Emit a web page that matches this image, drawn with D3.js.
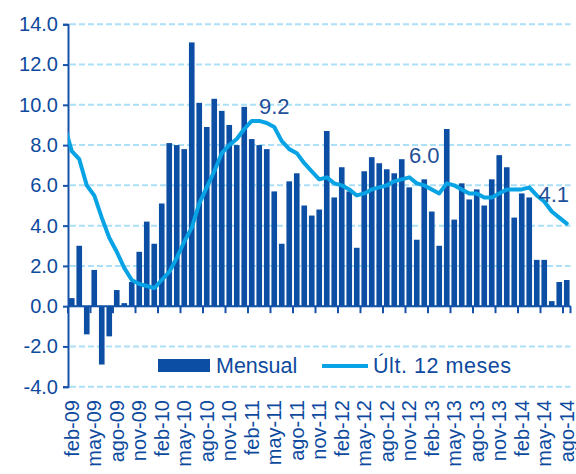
<!DOCTYPE html>
<html>
<head>
<meta charset="utf-8">
<script src="https://cdn.jsdelivr.net/npm/d3@7"></script>
<style>
html,body{margin:0;padding:0;background:#fff;}
svg{display:block;}
text{font-family:"Liberation Sans",Arial,sans-serif;}
</style>
</head>
<body>
<svg id="chart" width="576" height="474"></svg>
<script>
// ---------- data ----------
const months = [
 "feb-09","mar-09","abr-09","may-09","jun-09","jul-09","ago-09","sep-09","oct-09","nov-09","dic-09",
 "ene-10","feb-10","mar-10","abr-10","may-10","jun-10","jul-10","ago-10","sep-10","oct-10","nov-10","dic-10",
 "ene-11","feb-11","mar-11","abr-11","may-11","jun-11","jul-11","ago-11","sep-11","oct-11","nov-11","dic-11",
 "ene-12","feb-12","mar-12","abr-12","may-12","jun-12","jul-12","ago-12","sep-12","oct-12","nov-12","dic-12",
 "ene-13","feb-13","mar-13","abr-13","may-13","jun-13","jul-13","ago-13","sep-13","oct-13","nov-13","dic-13",
 "ene-14","feb-14","mar-14","abr-14","may-14","jun-14","jul-14","ago-14"
];
const mensual = [
 0.4,3.0,-1.4,1.8,-2.9,-1.5,0.8,0.15,1.2,2.7,4.2,
 3.1,5.1,8.1,8.0,7.8,13.1,10.1,8.9,10.3,9.7,9.0,8.0,
 9.9,8.3,8.0,7.8,5.7,3.1,6.2,6.6,5.0,4.5,4.8,8.7,
 5.4,6.9,5.7,2.9,6.7,7.4,7.1,6.8,6.6,7.3,5.9,3.3,
 6.3,4.7,3.0,8.8,4.3,6.1,5.3,5.8,5.0,6.3,7.5,6.9,
 4.4,5.6,5.4,2.3,2.3,0.25,1.2,1.3
];
// 12-month series; the first value (ene-09) lies just left of the plot and is clipped
const ultMonths = ["ene-09"].concat(months);
const ult12 = [
 9.0,
 7.7,7.3,6.0,5.5,4.4,3.4,2.7,1.9,1.3,1.1,1.0,
 0.9,1.3,1.7,2.4,3.2,3.9,5.1,5.9,6.7,7.6,8.0,8.3,
 8.8,9.2,9.2,9.1,8.9,8.2,7.8,7.6,7.1,6.7,6.3,6.4,
 6.1,6.0,5.8,5.5,5.6,5.8,5.9,6.0,6.2,6.3,6.4,6.1,
 6.0,5.8,5.6,6.1,6.0,5.8,5.6,5.6,5.4,5.4,5.6,5.8,
 5.8,5.8,5.9,5.5,5.2,4.7,4.4,4.1
];
const yTicks = [-4,-2,0,2,4,6,8,10,12,14];
const xLabelMonths = months.filter((m,i)=>i%3===0);
const annotMonths = ["may-11","ene-13","jun-14"];
const annotTexts  = ["9.2","6.0","4.1"];
const seriesNames = ["Mensual","Últ. 12 meses"];

// ---------- layout / style ----------
const X0 = 68, X1 = 570.5, YTOP = 24.3, YBOT = 386.7;
const cBar = "#0b4ea4", cLine = "#07a3e4", cText = "#0d4a9e", cGrid = "#ace0f7", cAxis = "#1552a8";

const svg = d3.select("#chart");
const x = d3.scaleBand().domain(months).range([X0, X1]).paddingInner(0.25).paddingOuter(0.125);
const step = x.step();
const xc = m => m === "ene-09" ? x("feb-09") + x.bandwidth()/2 - step : x(m) + x.bandwidth()/2;
const y = d3.scaleLinear().domain([-4,14]).range([YBOT, YTOP]);
const fmt = d3.formatLocale({decimal:".",thousands:",",grouping:[3],currency:["",""],minus:"-"}).format(".1f");

// gridlines
svg.append("g").selectAll("line").data(yTicks).join("line")
  .attr("x1", X0+2).attr("x2", X1)
  .attr("y1", d=>y(d)).attr("y2", d=>y(d))
  .attr("stroke", cGrid).attr("stroke-width", 2).attr("stroke-dasharray","6,3");

// bars
svg.append("g").selectAll("rect").data(mensual).join("rect")
  .attr("x", (d,i)=>x(months[i]))
  .attr("width", x.bandwidth())
  .attr("y", d=>y(Math.max(0,d)))
  .attr("height", d=>Math.abs(y(d)-y(0)))
  .attr("fill", cBar);

// y axis
const yAxis = d3.axisLeft(y).tickValues(yTicks).tickFormat(fmt).tickSize(5).tickPadding(5);
const gy = svg.append("g").attr("transform", `translate(${X0},0)`).call(yAxis);
gy.select(".domain").attr("stroke", cAxis).attr("stroke-width", 2);
gy.selectAll(".tick line").attr("stroke", cAxis).attr("stroke-width", 2);
gy.selectAll(".tick text").attr("fill", cText).attr("font-size", 20)
  .attr("font-family", "Liberation Sans, Arial, sans-serif");

// x axis line at zero with ticks every 3 months
svg.append("line").attr("x1", X0).attr("x2", X1).attr("y1", y(0)).attr("y2", y(0))
  .attr("stroke", cAxis).attr("stroke-width", 2);
svg.append("g").selectAll("line").data(xLabelMonths.concat(["end"])).join("line")
  .attr("x1", m => m==="end" ? X1 : x(m) - step*x.paddingInner()/2)
  .attr("x2", m => m==="end" ? X1 : x(m) - step*x.paddingInner()/2)
  .attr("y1", y(0)).attr("y2", y(0)+7)
  .attr("stroke", cAxis).attr("stroke-width", 2);

// x labels (rotated)
svg.append("g").selectAll("text").data(xLabelMonths).join("text")
  .attr("transform", m => `translate(${xc(m)},400) rotate(-90)`)
  .attr("text-anchor","end").attr("dy","0.35em")
  .attr("font-size", 20).attr("fill", cText).text(m=>m);

// line (clipped to plot)
svg.append("clipPath").attr("id","plotclip").append("rect")
  .attr("x", X0).attr("y", 0).attr("width", X1 - X0 + 4).attr("height", 474);
const line = d3.line().x((d,i)=>xc(ultMonths[i])).y(d=>y(d));
svg.append("path").datum(ult12)
  .attr("clip-path","url(#plotclip)")
  .attr("d", line).attr("fill","none").attr("stroke", cLine)
  .attr("stroke-width", 4).attr("stroke-linejoin","round").attr("stroke-linecap","round");

// annotations
const annotDy = [-7, -22, -22];
const annotDx = [0, 0, 2];
svg.append("g").selectAll("text").data(annotTexts).join("text")
  .attr("x", (d,i)=>xc(annotMonths[i]) + annotDx[i])
  .attr("y", (d,i)=>y(+d) + annotDy[i])
  .attr("text-anchor","middle").attr("font-size", 22).attr("fill", "#1f5099")
  .text(d=>d);

// legend
const lg = svg.append("g");
lg.append("rect").attr("x",158).attr("y",359).attr("width",52).attr("height",13).attr("fill",cBar);
lg.append("text").attr("x",216).attr("y",373).attr("font-size",21.5).attr("fill",cText).text(seriesNames[0]);
lg.append("line").attr("x1",322).attr("x2",368).attr("y1",366).attr("y2",366)
  .attr("stroke",cLine).attr("stroke-width",4);
lg.append("text").attr("x",373).attr("y",373).attr("font-size",21.5).attr("fill",cText)
  .attr("textLength",138).attr("lengthAdjust","spacing").text(seriesNames[1]);
</script>
</body>
</html>
